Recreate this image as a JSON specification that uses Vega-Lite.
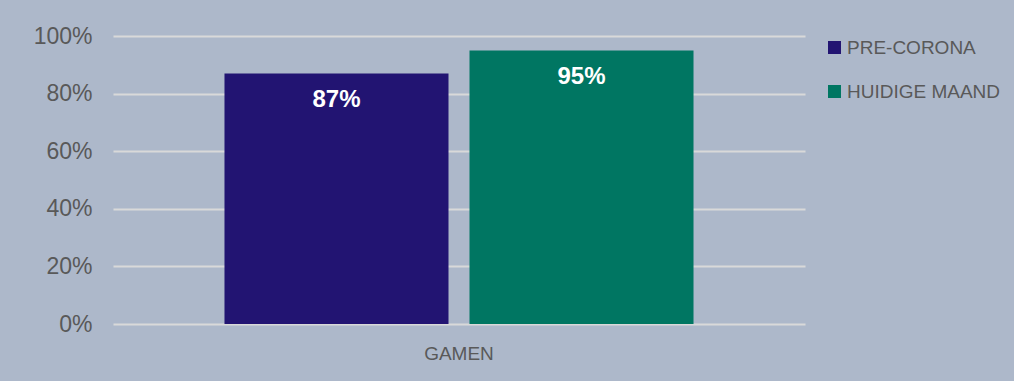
{
  "$schema": "https://vega.github.io/schema/vega-lite/v6.json",
  "autosize": {"type": "none"},
  "width": 692,
  "height": 288,
  "padding": {"left": 113, "top": 36, "right": 209, "bottom": 57},
  "background": "#ADB8CA",
  "data": {"values": [
    {"activiteit": "GAMEN", "periode": "PRE-CORONA", "waarde": 0.87, "label": "87%"},
    {"activiteit": "GAMEN", "periode": "HUIDIGE MAAND", "waarde": 0.95, "label": "95%"}
  ]},
  "encoding": {
    "x": {"field": "activiteit", "type": "nominal", "title": null,
      "scale": {"paddingInner": 0, "paddingOuter": 0.2377},
      "axis": {"labelAngle": 0, "domain": false, "ticks": false, "labelFontSize": 19, "labelColor": "#595959", "labelFont": "Liberation Sans", "labelPadding": 20}},
    "xOffset": {"field": "periode", "type": "nominal", "sort": ["PRE-CORONA", "HUIDIGE MAAND"],
      "scale": {"paddingInner": 0.0857, "paddingOuter": 0}},
    "y": {"field": "waarde", "type": "quantitative", "title": null,
      "scale": {"domain": [0, 1], "nice": false},
      "axis": {"values": [0, 0.2, 0.4, 0.6, 0.8, 1], "format": "~%", "domain": false, "ticks": false,
        "labelFontSize": 23, "labelColor": "#595959", "labelFont": "Liberation Sans", "labelPadding": 21,
        "gridColor": "#D9D9D9", "gridWidth": 2}}
  },
  "layer": [
    {
      "mark": {"type": "bar"},
      "encoding": {
        "color": {"field": "periode", "type": "nominal", "sort": ["PRE-CORONA", "HUIDIGE MAAND"],
          "scale": {"domain": ["PRE-CORONA", "HUIDIGE MAAND"], "range": ["#221472", "#007662"]},
          "legend": {"title": null, "orient": "none", "legendX": 712, "legendY": 2,
            "symbolType": "square", "symbolSize": 169, "symbolStrokeWidth": 0, "symbolOpacity": 1,
            "labelFontSize": 19, "labelColor": "#595959", "labelFont": "Liberation Sans",
            "rowPadding": 24, "labelOffset": 3}}
      }
    },
    {
      "mark": {"type": "text", "baseline": "middle", "dy": 27, "color": "white", "fontWeight": "bold", "fontSize": 24, "font": "Liberation Sans"},
      "encoding": {"text": {"field": "label"}}
    }
  ],
  "config": {"view": {"stroke": null}}
}
